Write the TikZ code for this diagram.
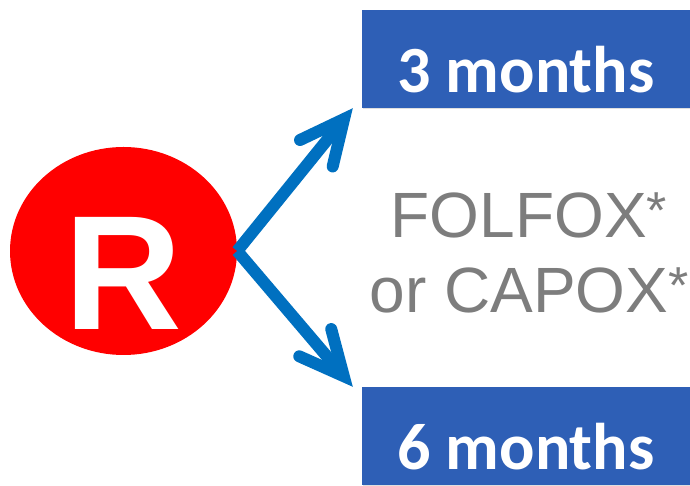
\documentclass[tikz,border=0pt]{standalone}
\usepackage{fontspec}
\setmainfont{Liberation Sans}
\newfontfamily\calibri{Carlito}
\usetikzlibrary{arrows.meta, shadows, shapes.geometric}

\definecolor{randred}{RGB}{255,0,0}
\definecolor{armblue}{RGB}{46,95,182}
\definecolor{arrowblue}{RGB}{0,112,192}
\definecolor{druggray}{RGB}{125,125,125}

% small raised asterisk
\newcommand{\footstar}{\raisebox{9pt}{\fontsize{52}{52}\selectfont*}}

\tikzset{
  armbox/.style={fill=armblue, minimum width=328pt, minimum height=98pt, inner sep=0pt,
    text=white, font=\calibri\bfseries\fontsize{66}{66}\selectfont, text height=67pt, text depth=0pt,
    drop shadow={opacity=0.25, shadow xshift=1pt, shadow yshift=-1.5pt}},
  splitarrow/.style={draw=arrowblue, line width=12pt,
    -{Straight Barb[length=44pt, width=42pt, line cap=round]}}
}

\begin{document}
\begin{tikzpicture}[x=1pt, y=1pt]
	\useasboundingbox (0,0) rectangle (690,486);
	% randomisation and the two arms
	\node (rand) [ellipse, fill=randred, minimum width=227pt, minimum height=208pt, inner sep=0pt] at (123.5,235) {};
	\node (randR) [text=white, font=\bfseries\fontsize{163}{163}\selectfont, inner sep=0pt] at ([yshift=-22pt]rand.center) {R};
	\node (short) [armbox] at (526,427) {3 months};
	\node (long) [armbox] at (526,50) {6 months};
	\node (drug) [align=center, text=druggray, font=\fontsize{64}{75}\selectfont] at (529,233) {FOLFOX\footstar\\or CAPOX\footstar};

	\draw [splitarrow] (rand.east) -- ([xshift=-9pt]short.south west);
	\draw [splitarrow] (rand.east) -- ([xshift=-9pt]long.north west);
\end{tikzpicture}
\end{document}
